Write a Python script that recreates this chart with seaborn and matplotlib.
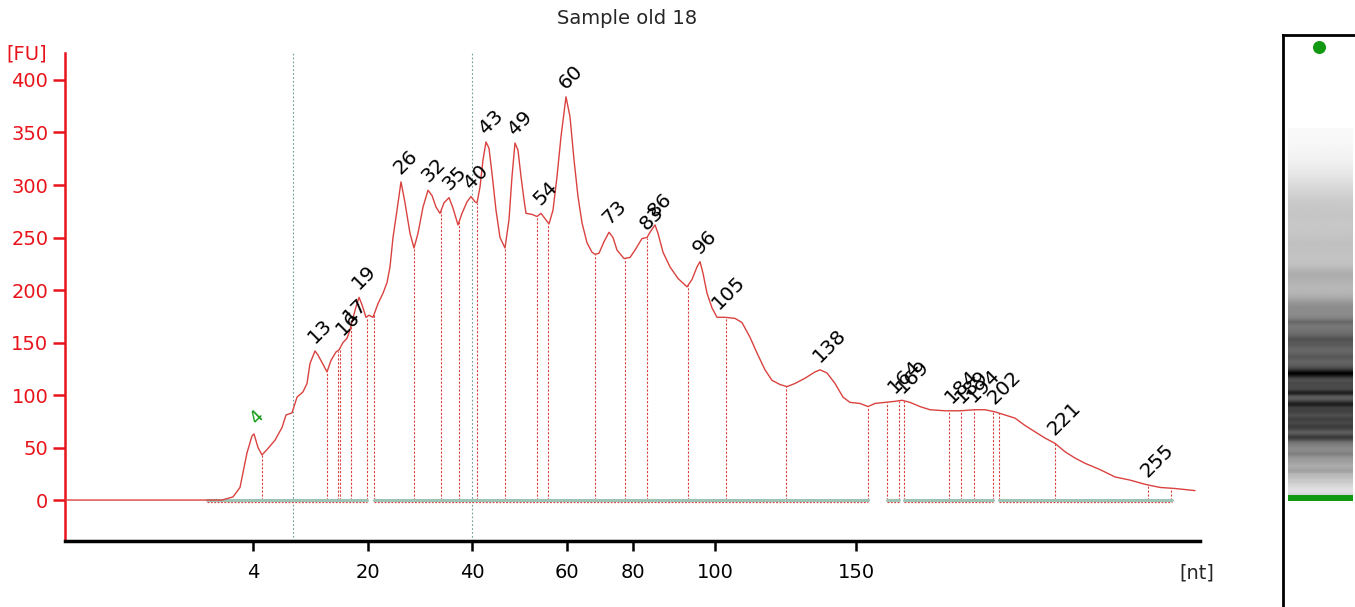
import numpy as np
import pandas as pd
import matplotlib
matplotlib.use("Agg")
import matplotlib.pyplot as plt
import seaborn as sns

# electropherogram trace: migration position (instrument scale) vs fluorescence
pos = [65, 222, 233, 240, 243, 247, 252, 254, 258, 262, 267, 275, 282, 286, 292, 297,
       303, 307, 310, 315, 318, 322, 327, 331, 336, 339, 343, 347, 350, 352, 356, 359,
       362, 366, 369, 373, 378, 383, 387, 390, 393, 397, 401, 405, 410, 414, 418, 423,
       428, 432, 436, 440, 444, 449, 453, 458, 462, 467, 471, 475, 477, 480, 483, 486,
       489, 492, 496, 500, 505, 509, 512, 515, 518, 521, 524, 526, 532, 537, 541, 545,
       549, 553, 557, 561, 566, 570, 574, 578, 582, 587, 592, 595, 599, 604, 609, 613,
       617, 624, 630, 635, 642, 647, 650, 655, 658, 663, 670, 678, 687, 692, 697, 700,
       703, 707, 712, 717, 725, 735, 742, 750, 757, 765, 772, 780, 787, 795, 805, 815,
       820, 827, 835, 843, 850, 860, 868, 875, 885, 895, 902, 910, 920, 930, 945, 960,
       975, 985, 995, 1005, 1015, 1025, 1035, 1045, 1055, 1065, 1075, 1085, 1100, 1115,
       1130, 1145, 1160, 1175, 1185, 1195]
fu = [0, 0, 3, 12, 26, 45, 61, 63, 50, 43, 48, 57, 69, 81, 83, 98,
      103, 111, 130, 142, 138, 131, 122, 133, 141, 143, 150, 154, 162, 170, 184, 193,
      186, 174, 176, 174, 187, 197, 207, 222, 250, 276, 303, 283, 254, 240, 254, 279,
      295, 290, 279, 273, 283, 288, 278, 262, 273, 284, 289, 284, 283, 298, 324, 341,
      335, 311, 276, 250, 240, 267, 308, 340, 333, 308, 286, 273, 272, 270, 273, 268,
      263, 276, 308, 346, 384, 365, 324, 289, 264, 245, 236, 234, 235, 246, 255, 250,
      238, 230, 231, 238, 249, 250, 255, 262, 254, 236, 222, 211, 203, 210, 222, 227,
      216, 197, 183, 174, 174, 173, 169, 155, 140, 124, 114, 110, 108, 111, 116, 122,
      124, 121, 111, 98, 93, 92, 89, 92, 93, 94, 95, 93, 89, 86, 85, 85,
      86, 86, 84, 81, 78, 71, 65, 59, 54, 46, 40, 35, 29, 22,
      19, 15, 12, 11, 10, 9]

# ladder: size in nt at migration position
ladder_nt = [4, 20, 40, 60, 80, 100, 150]
ladder_pos = [253, 368, 472, 567, 633, 715, 856]

# called peaks
peak_nt = [13, 16, 17, 19, 26, 32, 35, 40, 43, 49, 54, 60, 73, 83, 86, 96, 105, 138,
           164, 169, 184, 189, 194, 202, 221, 255]
peak_pos = [315, 343, 350, 359, 401, 428, 449, 471, 486, 515, 541, 566, 609, 647, 655,
            700, 719, 820, 895, 903, 952, 962, 974, 995, 1055, 1148]
marker_pos = 253

# peak / region delimiters
delim_pos = [262, 327, 338, 340, 351, 367, 374, 414, 441, 459, 477, 505, 537, 548, 595,
             625, 647, 688, 726, 786, 868, 887, 899, 904, 949, 961, 974, 993, 999, 1055,
             1148, 1171]
baseline_segments = [(207, 367), (374, 868), (887, 899), (904, 993), (999, 1172)]
window_pos = [293, 472]

RED = "#e8141c"
TRACE = "#d9423f"
GREEN = "#119a11"

sns.set_style("white")
plt.rcParams["font.family"] = ["DejaVu Sans"]

W, H = 1355, 607
fig = plt.figure(figsize=(W / 100, H / 100), dpi=100)
ax = fig.add_axes([65 / W, 1 - 541 / H, (1200 - 65) / W, (541 - 53) / H])

df = pd.DataFrame({"pos": pos, "fu": fu})

# baseline and delimiters
for a, b in baseline_segments:
    ax.plot([a, b], [-1.8, -1.8], color=TRACE, lw=0.9, ls=(0, (1.5, 1.2)), zorder=1)
    ax.plot([a, b], [0, 0], color="#9cc4b6", lw=2.2, zorder=1.5)
for x in delim_pos:
    top = np.interp(x, pos, fu)
    ax.plot([x, x], [0, top], color=TRACE, lw=0.8, ls=(0, (2, 1.5)), zorder=1)
for x in window_pos:
    ax.axvline(x, color="#6f9b98", lw=0.8, ls=(0, (1.5, 2)), zorder=0)

sns.lineplot(data=df, x="pos", y="fu", ax=ax, color=TRACE, lw=1.0, zorder=3)

# peak labels
for nt, x in zip(peak_nt, peak_pos):
    y = np.interp(x, pos, fu)
    ax.annotate(str(nt), (x, y), xytext=(2, 3), textcoords="offset points",
                rotation=45, rotation_mode="anchor", ha="left", va="bottom",
                fontsize=14.5, color="black")
ax.annotate("4", (marker_pos, np.interp(marker_pos, pos, fu)), xytext=(4, 5),
            textcoords="offset points", rotation=45, rotation_mode="anchor",
            ha="left", va="bottom", fontsize=13, color=GREEN)

ax.set_xlim(65, 1200)
ax.set_ylim(-39, 425.7)
ax.set_xticks(ladder_pos)
ax.set_xticklabels([str(v) for v in ladder_nt])
ax.set_yticks(np.arange(0, 401, 50))
ax.set_xlabel("")
ax.set_ylabel("")

for s in ["top", "right"]:
    ax.spines[s].set_visible(False)
ax.spines["left"].set_color(RED)
ax.spines["left"].set_linewidth(1.8)
ax.spines["bottom"].set_color("black")
ax.spines["bottom"].set_linewidth(2.5)
ax.tick_params(axis="y", colors=RED, labelsize=14, length=9, width=1.8, pad=3,
               left=True, direction="out")
ax.tick_params(axis="x", colors="black", labelsize=14, length=7, width=1.8, pad=9,
               bottom=True, direction="out")

fig.text(627 / W, 1 - 18 / H, "Sample old 18", ha="center", va="center", fontsize=14)
fig.text(27 / W, 1 - 54 / H, "[FU]", ha="center", va="center", fontsize=14, color=RED)
fig.text(1197 / W, 1 - 573 / H, "[nt]", ha="center", va="center", fontsize=14)

# virtual gel lane
gax = fig.add_axes([1283 / W, 0, (W - 1283) / W, (H - 35) / H])
gax.set_xlim(0, 1)
gax.set_ylim(-36, 1440)
lane = np.linspace(253, 1200, 500)
band = np.interp(lane, pos, fu)[:, None]
gax.imshow(band, extent=[0.07, 0.97, 253, 1200], origin="lower", aspect="auto",
           cmap="gray_r", vmin=0, vmax=max(fu))
gax.fill_between([0.07, 0.97], 237, 253, color=GREEN, lw=0)
gax.scatter([0.5], [1409], s=70, color=GREEN, marker="o", zorder=3)
gax.set_xticks([])
gax.set_yticks([])
for s in ["right", "bottom"]:
    gax.spines[s].set_visible(False)
for s in ["left", "top"]:
    gax.spines[s].set_color("black")
    gax.spines[s].set_linewidth(2)

fig.savefig("out.png", dpi=100)
